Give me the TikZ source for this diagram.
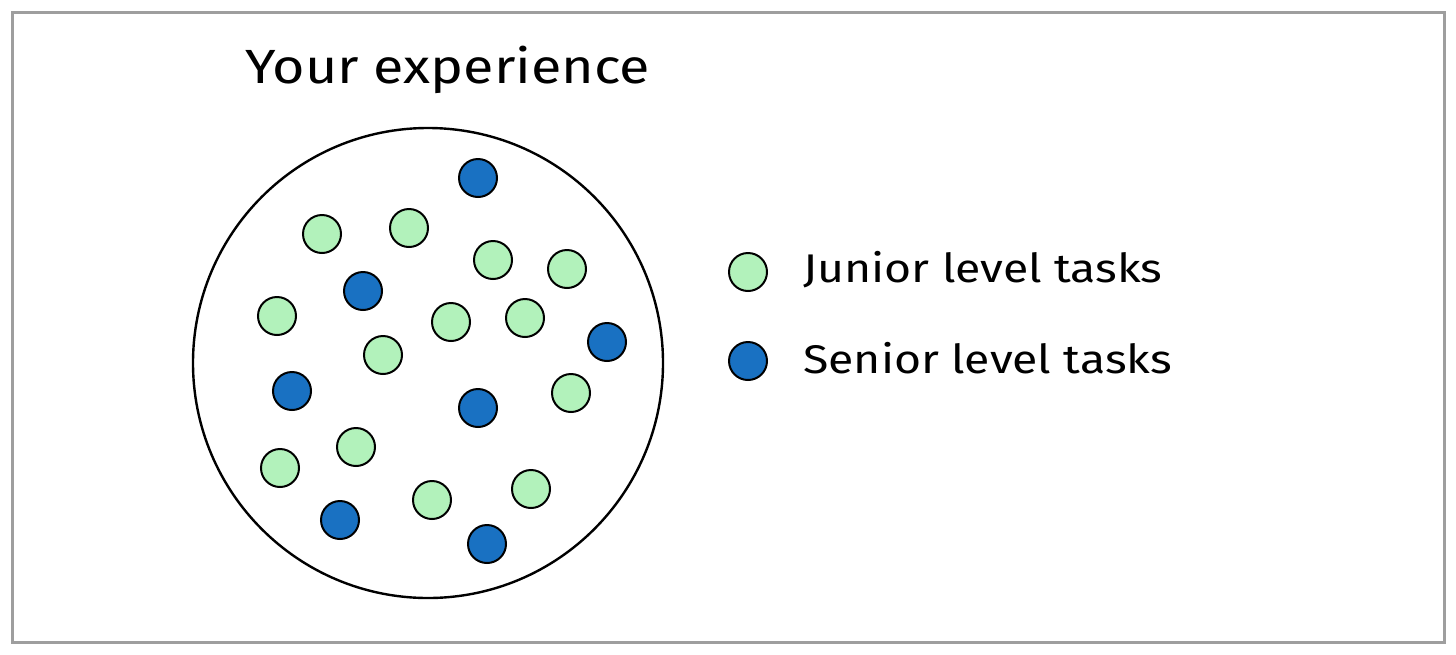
\documentclass[tikz,border=0pt]{standalone}
\usepackage{fontspec}
\setmainfont{Fira Sans}[FakeStretch=1.16]
\definecolor{jr}{HTML}{B2F2BB}
\definecolor{sr}{HTML}{1971C2}
\begin{document}
\begin{tikzpicture}[x=0.5pt,y=-0.5pt,
  dotj/.style={circle,draw=black,line width=1pt,fill=jr,minimum size=19pt,inner sep=0pt},
  dots/.style={circle,draw=black,line width=1pt,fill=sr,minimum size=19pt,inner sep=0pt},
  lbl/.style={anchor=west,inner sep=0pt,font=\fontsize{20}{22}\selectfont}]
\useasboundingbox (0,0) rectangle (1456,654);
\draw[color=black!38,line width=1.5pt] (12,12) rectangle (1444,642);
\node[anchor=west,inner sep=0pt,font=\fontsize{24}{26}\selectfont] (title) at (245,70) {Your experience};
\node[circle,draw=black,line width=1.2pt,minimum size=235pt,inner sep=0pt] (big) at (428,363) {};
\foreach \x/\y [count=\i] in {478/178,363/291,607/342,292/391,478/408,340/520,487/544}
  \node[dots] (s\i) at (\x,\y) {};
\foreach \x/\y [count=\i] in {322/234,409/228,493/260,567/269,277/316,451/322,525/318,383/355,571/393,356/447,280/468,432/500,531/489}
  \node[dotj] (j\i) at (\x,\y) {};
\node[dotj] (lj) at (748,272) {};
\node[dots] (ls) at (748,361) {};
\node[lbl] (tj) at (803,270) {Junior level tasks};
\node[lbl] (ts) at (803,358) {Senior level tasks};
\end{tikzpicture}
\end{document}
